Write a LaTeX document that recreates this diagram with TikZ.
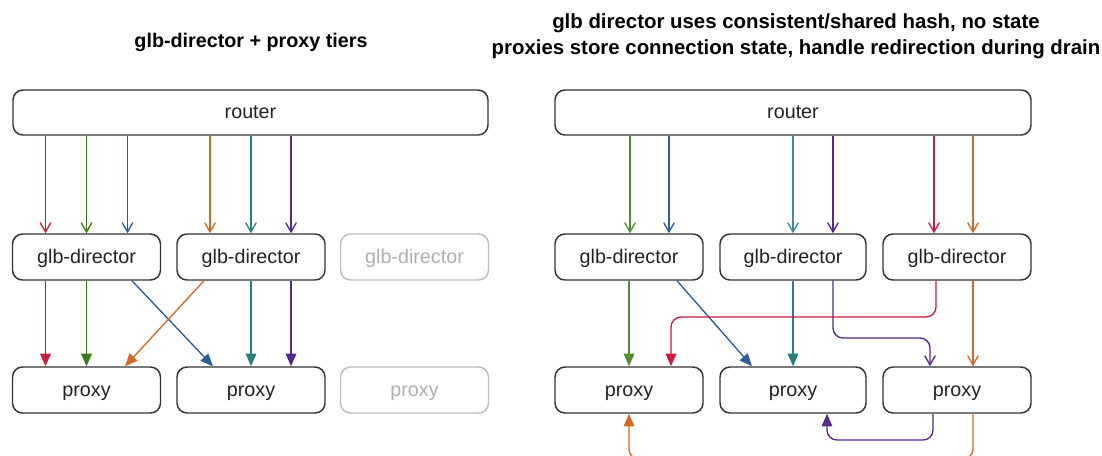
\documentclass[tikz,border=0pt]{standalone}
\usepackage{fontspec}
\setmainfont{Liberation Sans}
\usetikzlibrary{arrows.meta,calc}
\definecolor{cred}{HTML}{C61E3C}
\definecolor{cgreen}{HTML}{3B7A18}
\definecolor{cgreenl}{HTML}{4F8F30}
\definecolor{cblue}{HTML}{2C5C9C}
\definecolor{corange}{HTML}{D06A26}
\definecolor{cteal}{HTML}{2A7E7E}
\definecolor{ctealb}{HTML}{3C9090}
\definecolor{cpurple}{HTML}{55298C}
\definecolor{boxc}{HTML}{333333}
\definecolor{textc}{HTML}{222222}
\definecolor{greyc}{HTML}{BDBDBD}
\definecolor{greyt}{HTML}{AFAFAF}
\begin{document}
\begin{tikzpicture}[x=0.75pt,y=-0.75pt,
  box/.style={draw=boxc, line width=1.1pt, rounded corners=7.5pt,
    minimum width=148*0.75pt, minimum height=46*0.75pt, inner sep=0pt,
    text height=11pt, text depth=2pt,
    font=\fontsize{14.8pt}{17pt}\selectfont, text=textc},
  routerbox/.style={box, minimum width=476*0.75pt, minimum height=45*0.75pt},
  ghost/.style={box, draw=greyc, text=greyt},
  ttl/.style={font=\fontsize{14.8pt}{19.5pt}\selectfont\bfseries, text=black, align=center},
  oarr/.style={line width=1pt, -{Straight Barb[length=7pt,width=8pt,line width=1pt]}},
  farr/.style={line width=1pt, -{Triangle[length=9.5pt,width=8pt]}},
  route/.style={rounded corners=7.5pt}]
\useasboundingbox (0,0) rectangle (1102,455);
\fill[white] (0,0) rectangle (1102,455);
\clip (0,0) rectangle (1102,455);

% titles
\node[ttl] (t1) at (251,42) {glb-director + proxy tiers};
\node[ttl, font=\fontsize{15.3pt}{19.8pt}\selectfont\bfseries] (t2) at (796,36) {glb director uses consistent/shared hash, no state\\proxies store connection state, handle redirection during drain};

% left diagram
\node[routerbox, minimum width=475*0.75pt] (lr) at (250.5,112.5) {router};
\node[box] (ld1) at (86.5,257) {glb-director};
\node[box] (ld2) at (251,257) {glb-director};
\node[ghost] (ld3) at (414.5,257) {glb-director};
\node[box] (lp1) at (86.5,390) {proxy};
\node[box] (lp2) at (251,390) {proxy};
\node[ghost] (lp3) at (414.5,390) {proxy};

\foreach \d/\o/\c in {ld1/-41/cred, ld1/0/cgreen, ld1/41/cblue, ld2/-41/corange, ld2/0/cteal, ld2/40/cpurple}{
  \draw[oarr,\c] let \p1=($(\d.north)+(\o,0)$), \p2=(lr.south) in (\x1,\y2) -- (\p1);
}
\draw[farr,cred] ($(ld1.south)+(-41,0)$) -- ($(lp1.north)+(-41,0)$);
\draw[farr,cgreen] (ld1.south) -- (lp1.north);
\draw[farr,cblue] ($(ld1.south)+(45.5,0)$) -- ($(lp2.north)+(-38,0)$);
\draw[farr,corange] ($(ld2.south)+(-47,0)$) -- ($(lp1.north)+(38.5,0)$);
\draw[farr,cteal] (ld2.south) -- (lp2.north);
\draw[farr,cpurple] ($(ld2.south)+(40,0)$) -- ($(lp2.north)+(40,0)$);

% right diagram
\node[routerbox] (rr) at (793,112.5) {router};
\node[box] (rd1) at (629,257) {glb-director};
\node[box, minimum width=146*0.75pt] (rd2) at (793,257) {glb-director};
\node[box] (rd3) at (957,257) {glb-director};
\node[box] (rp1) at (629,390) {proxy};
\node[box, minimum width=146*0.75pt] (rp2) at (793,390) {proxy};
\node[box] (rp3) at (957,390) {proxy};

\foreach \d/\o/\c in {rd1/1/cgreenl, rd1/40/cblue, rd2/0/ctealb, rd2/40/cpurple, rd3/-23/cred, rd3/16/corange}{
  \draw[oarr,\c] let \p1=($(\d.north)+(\o,0)$), \p2=(rr.south) in (\x1,\y2) -- (\p1);
}
\draw[farr,cgreenl] (rd1.south) -- (rp1.north);
\draw[farr,cblue] ($(rd1.south)+(48,0)$) -- ($(rp2.north)+(-41,0)$);
\draw[farr,cteal] (rd2.south) -- (rp2.north);
\draw[oarr,cpurple,route] let \p1=($(rd2.south)+(40,0)$), \p2=($(rp3.north)+(-27,0)$), \p3=(0,338) in
  (\p1) -- (\x1,\y3) -- (\x2,\y3) -- (\p2);
\draw[farr,cred,route] let \p1=($(rd3.south)+(-21,0)$), \p2=($(rp1.north)+(42,0)$), \p3=(0,317) in
  (\p1) -- (\x1,\y3) -- (\x2,\y3) -- (\p2);
\draw[oarr,corange] ($(rd3.south)+(16,0)$) -- ($(rp3.north)+(16,0)$);
\draw[farr,cpurple,route] let \p1=($(rp3.south)+(-24,0)$), \p2=($(rp2.south)+(34,0)$), \p3=(0,440) in
  (\p1) -- (\x1,\y3) -- (\x2,\y3) -- (\p2);
\draw[farr,corange,route] let \p1=($(rp3.south)+(16,0)$), \p2=(rp1.south), \p3=(0,459) in
  (\p1) -- (\x1,\y3) -- (\x2,\y3) -- (\p2);
\end{tikzpicture}
\end{document}
